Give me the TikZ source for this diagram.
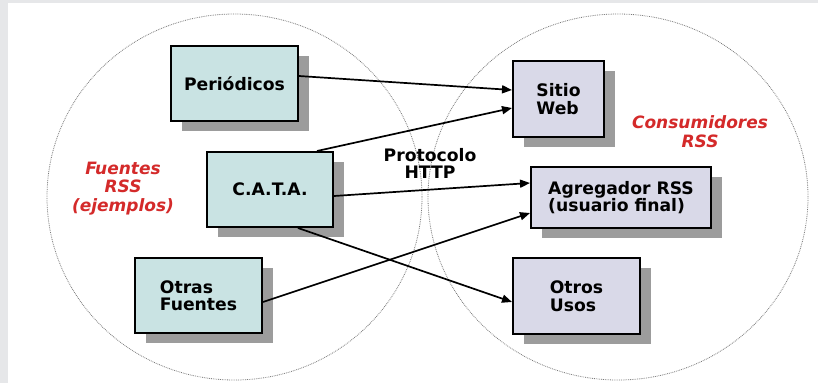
\documentclass[tikz,border=0pt]{standalone}
\usepackage{fontspec}
\setmainfont{DejaVu Sans}
\usetikzlibrary{arrows.meta,shadows}
\definecolor{bggray}{HTML}{E6E7E9}
\definecolor{srcfill}{HTML}{C9E3E3}
\definecolor{dstfill}{HTML}{D9D9E8}
\definecolor{shadowgray}{HTML}{9C9C9C}
\definecolor{labelred}{HTML}{D42A2A}
\definecolor{circlegray}{HTML}{7A7A7A}
\begin{document}
\begin{tikzpicture}[x=1pt,y=-1pt,
  box/.style={draw=black, line width=2pt, inner sep=0pt, align=left,
    font=\fontsize{17.2}{17.5}\selectfont\bfseries,
    drop shadow={shadow xshift=11pt, shadow yshift=-10pt, fill=shadowgray, opacity=1}},
  srcbox/.style={box, fill=srcfill},
  dstbox/.style={box, fill=dstfill},
  circ/.style={draw=circlegray, line width=0.8pt, densely dotted},
  conn/.style={line width=1.7pt, -{Triangle[length=10pt,width=8pt]}},
  redlabel/.style={text=labelred, align=center,
    font=\fontsize{17}{18.5}\selectfont\bfseries\itshape},
  blacklabel/.style={align=center, font=\fontsize{17.2}{17}\selectfont\bfseries}
]
\useasboundingbox (0,0) rectangle (818,383);
\fill[white] (0,0) rectangle (818,383);
\fill[bggray] (0,0) rectangle (818,3);
\fill[bggray] (0,0) rectangle (8,383);

% circles
\draw[circ] (234.5,197) ellipse [x radius=187.5pt, y radius=183pt];
\draw[circ] (618,197) ellipse [x radius=190pt, y radius=183pt];

% source boxes
\node[srcbox, minimum width=127pt, minimum height=75pt] (per) at (234.5,83.5) {Periódicos};
\node[srcbox, minimum width=126pt, minimum height=75pt] (cata) at (270,189.5) {C.A.T.A.};
\node[srcbox, minimum width=127pt, minimum height=75pt] (otr) at (198.5,295.5) {Otras\\Fuentes};

% destination boxes
\node[dstbox, minimum width=91pt, minimum height=76pt] (sit) at (558.5,99) {Sitio\\Web};
\node[dstbox, minimum width=180pt, minimum height=61pt] (agr) at (621,197.5) {Agregador RSS\\(usuario final)};
\node[dstbox, minimum width=127pt, minimum height=76pt] (usos) at (576.5,296) {Otros\\Usos};

% labels
\node[redlabel] (fuentes) at (123,188.5) {Fuentes\\RSS\\(ejemplos)};
\node[redlabel] (cons) at (700,131.5) {Consumidores\\RSS};
\node[blacklabel] (http) at (430,163.5) {Protocolo\\HTTP};

% connectors
\draw[conn] ([yshift=7.5pt]per.east) -- ([yshift=9pt]sit.west);
\draw[conn] ([xshift=47pt]cata.north) -- ([yshift=-9pt]sit.west);
\draw[conn] ([yshift=-6.5pt]cata.east) -- ([yshift=14.5pt]agr.west);
\draw[conn] ([xshift=28pt]cata.south) -- ([yshift=-6pt]usos.west);
\draw[conn] ([yshift=-6.5pt]otr.east) -- ([yshift=-15.5pt]agr.west);
\end{tikzpicture}
\end{document}
